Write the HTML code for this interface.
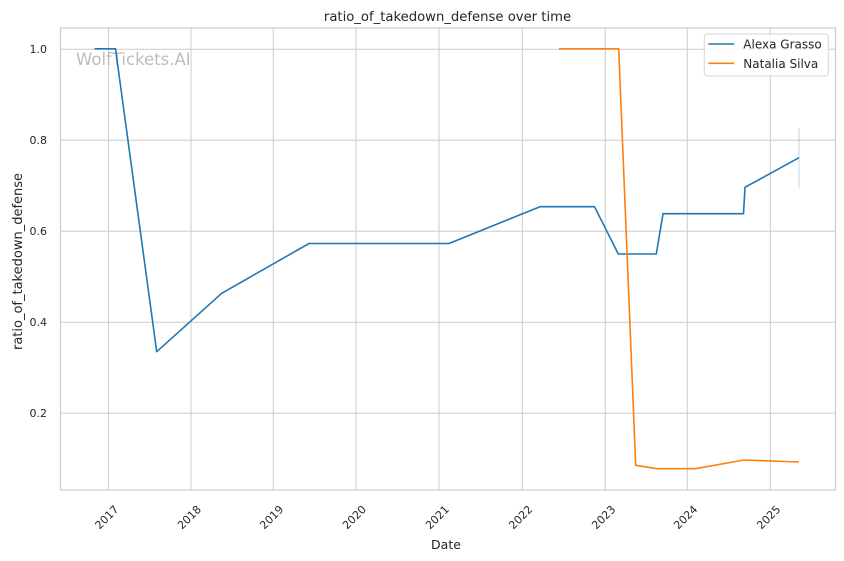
<!DOCTYPE html>
<html><head><meta charset="utf-8"><style>
html,body{margin:0;padding:0;background:#fff;}
svg{display:block;font-family:"DejaVu Sans","Liberation Sans",sans-serif;}
</style></head><body>
<svg width="844" height="561" viewBox="0 0 844 561" xmlns="http://www.w3.org/2000/svg">
<rect x="0" y="0" width="844" height="561" fill="#fff"/>
<!-- grid -->
<g stroke="#cccccc" stroke-width="1">
<line x1="108.5" y1="28" x2="108.5" y2="490"/>
<line x1="191" y1="28" x2="191" y2="490"/>
<line x1="273.3" y1="28" x2="273.3" y2="490"/>
<line x1="356" y1="28" x2="356" y2="490"/>
<line x1="439" y1="28" x2="439" y2="490"/>
<line x1="522.3" y1="28" x2="522.3" y2="490"/>
<line x1="605.3" y1="28" x2="605.3" y2="490"/>
<line x1="687.3" y1="28" x2="687.3" y2="490"/>
<line x1="770.3" y1="28" x2="770.3" y2="490"/>
<line x1="60.5" y1="49.3" x2="835.5" y2="49.3"/>
<line x1="60.5" y1="140.3" x2="835.5" y2="140.3"/>
<line x1="60.5" y1="231.3" x2="835.5" y2="231.3"/>
<line x1="60.5" y1="322.3" x2="835.5" y2="322.3"/>
<line x1="60.5" y1="413.3" x2="835.5" y2="413.3"/>
</g>
<rect x="60.5" y="28" width="775" height="462" fill="none" stroke="#cccccc" stroke-width="1.2"/>
<!-- watermark -->
<text x="76" y="65" font-size="16.5" fill="#bdbdbd">WolfTickets.AI</text>
<!-- CI line -->
<line x1="799" y1="128" x2="799" y2="188" stroke="#1f77b4" stroke-opacity="0.25" stroke-width="1.2"/>
<!-- series -->
<polyline fill="none" stroke="#1f77b4" stroke-width="1.6" stroke-linejoin="round" points="94.5,48.8 115.5,48.8 156.7,351.7 221.7,293.3 309,243.5 449,243.5 540,206.7 594.5,206.7 618.3,254 656.3,254 663,213.7 743.5,213.7 745,187.3 799,157.7"/>
<polyline fill="none" stroke="#ff7f0e" stroke-width="1.6" stroke-linejoin="round" points="559,48.8 618.7,48.8 635.7,465.3 657,468.7 695.5,468.7 744,460 799,462"/>
<!-- y tick labels -->
<g font-size="11" fill="#262626" text-anchor="end" dominant-baseline="central">
<text x="47" y="49.3">1.0</text>
<text x="47" y="140.3">0.8</text>
<text x="47" y="231.3">0.6</text>
<text x="47" y="322.3">0.4</text>
<text x="47" y="413.3">0.2</text>
</g>
<!-- x tick labels -->
<g font-size="11" fill="#262626" text-anchor="middle" dominant-baseline="central">
<text transform="translate(107,517.5) rotate(-45)">2017</text>
<text transform="translate(189.5,517.5) rotate(-45)">2018</text>
<text transform="translate(271.8,517.5) rotate(-45)">2019</text>
<text transform="translate(354.5,517.5) rotate(-45)">2020</text>
<text transform="translate(437.5,517.5) rotate(-45)">2021</text>
<text transform="translate(520.8,517.5) rotate(-45)">2022</text>
<text transform="translate(603.8,517.5) rotate(-45)">2023</text>
<text transform="translate(685.8,517.5) rotate(-45)">2024</text>
<text transform="translate(768.8,517.5) rotate(-45)">2025</text>
</g>
<!-- axis labels -->
<text x="446" y="549" font-size="12.5" fill="#262626" text-anchor="middle">Date</text>
<text transform="translate(22,261.5) rotate(-90)" font-size="13" fill="#262626" text-anchor="middle">ratio_of_takedown_defense</text>
<text x="447.5" y="21" font-size="13.2" fill="#262626" text-anchor="middle">ratio_of_takedown_defense over time</text>
<!-- legend -->
<rect x="704.3" y="34" width="124" height="42" rx="3" ry="3" fill="#fff" fill-opacity="0.8" stroke="#d6d6d6" stroke-width="1"/>
<line x1="708.3" y1="44" x2="734.3" y2="44" stroke="#1f77b4" stroke-width="1.6"/>
<line x1="708.3" y1="63.3" x2="734.3" y2="63.3" stroke="#ff7f0e" stroke-width="1.6"/>
<g font-size="12" fill="#262626" dominant-baseline="central">
<text x="743.3" y="44.5">Alexa Grasso</text>
<text x="743.3" y="63.8">Natalia Silva</text>
</g>
</svg>
</body></html>
